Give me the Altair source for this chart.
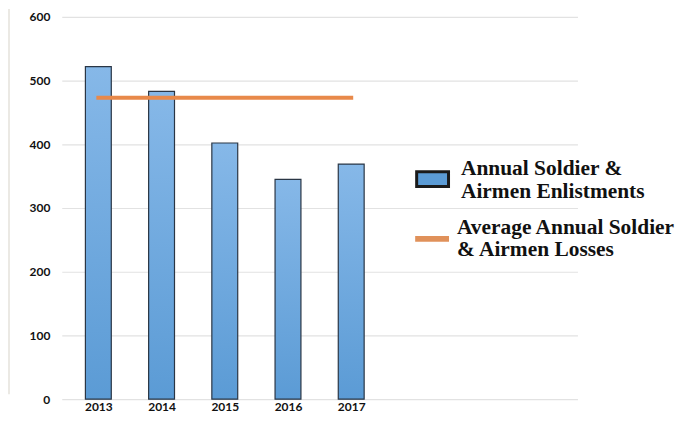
import altair as alt
import pandas as pd

# ---- data ----
years = [2013, 2014, 2015, 2016, 2017]
enlistments = [522, 483, 402, 345, 369]
avg_losses = [473, 473, 473, 473, 473]
legend_enlist = ["Annual Soldier &", "Airmen Enlistments"]
legend_losses = ["Average Annual Soldier", "& Airmen Losses"]
y_ticks = [0, 100, 200, 300, 400, 500, 600]

df = pd.DataFrame({"year": years, "value": enlistments, "avg": avg_losses})
one = pd.DataFrame({"k": [0]})

xscale = alt.Scale(domain=[2012.5, 2020.5], nice=False)
yscale = alt.Scale(domain=[0, 600], nice=False)

grad = alt.Gradient(
    gradient="linear",
    stops=[alt.GradientStop(color="#86b8e8", offset=0),
           alt.GradientStop(color="#5b9bd5", offset=1)],
    x1=0, x2=0, y1=0, y2=1,
)

bars = alt.Chart(df).mark_bar(
    width=26, color=grad, stroke="#2a3645", strokeWidth=1.2
).encode(
    x=alt.X("year:Q", scale=xscale,
            axis=alt.Axis(values=years, format="d", title=None, grid=False,
                          domain=False, ticks=False, labelPadding=2,
                          labelFont="Lato", labelFontWeight="bold",
                          labelFontSize=12, labelColor="#111")),
    y=alt.Y("value:Q", scale=yscale,
            axis=alt.Axis(values=y_ticks, title=None, grid=True,
                          gridColor="#e2e2e2", gridWidth=1.2,
                          domain=False, ticks=False, labelPadding=12,
                          labelFont="Lato", labelFontWeight="bold",
                          labelFontSize=12, labelColor="#111")),
)

line = alt.Chart(df).mark_line(
    color="#e8894a", strokeWidth=4, strokeCap="square"
).encode(x=alt.X("year:Q", scale=xscale), y=alt.Y("avg:Q", scale=yscale))

strip = alt.Chart(one).mark_rect(color="#ebe9e4").encode(
    x=alt.value(-54), x2=alt.value(-52), y=alt.value(-8), y2=alt.value(379))

sw1 = alt.Chart(one).mark_rect(fill="#5b9bd5", stroke="#1a1a1a", strokeWidth=3).encode(
    x=alt.value(356.5), x2=alt.value(388.5), y=alt.value(155.5), y2=alt.value(170.5))

sw2 = alt.Chart(one).mark_rule(color="#e0915a", strokeWidth=6).encode(
    x=alt.value(355), x2=alt.value(389), y=alt.value(223))

txt_style = dict(align="left", baseline="alphabetic", font="Liberation Serif",
                 fontWeight="bold", fontSize=21.5, color="#111", lineHeight=22.5)
t1 = alt.Chart(one).mark_text(text=legend_enlist, **txt_style).encode(
    x=alt.value(401), y=alt.value(159))
t2 = alt.Chart(one).mark_text(text=legend_losses, **txt_style).encode(
    x=alt.value(397), y=alt.value(218))

chart = alt.layer(strip, bars, line, sw1, sw2, t1, t2).properties(
    width=518, height=384,
    padding={"left": 54, "top": 8, "right": 100, "bottom": 14},
    autosize=alt.AutoSizeParams(type="none"),
).configure(background="white").configure_view(
    stroke=None, strokeOpacity=0, strokeWidth=0
).configure_axis(domain=False, ticks=False)

chart.save("out.html", embed_options={"renderer": "svg", "actions": False})
